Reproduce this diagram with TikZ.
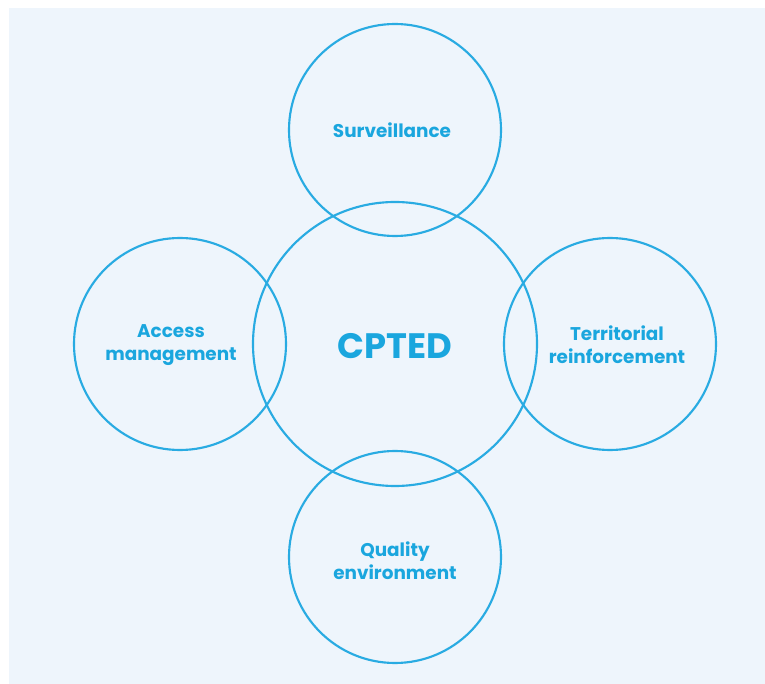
\documentclass[tikz,border=0pt]{standalone}
\usepackage{fontspec}
\setmainfont{Poppins}
\definecolor{cline}{HTML}{29ABE2}
\definecolor{ctext}{HTML}{1AA6DE}
\definecolor{cbg}{HTML}{EEF5FC}
\begin{document}
\begin{tikzpicture}[x=0.75pt,y=-0.75pt,
  ring/.style={draw=cline,line width=1.6pt,circle,inner sep=0pt},
  lab/.style={text=ctext,font=\fontsize{13.8}{17.5}\selectfont\bfseries,align=center}]
\useasboundingbox (0,0) rectangle (765,684);
\fill[white] (0,0) rectangle (765,684);
\fill[cbg] (9,8) rectangle (770,690);
\node[ring,minimum size=284*0.75pt] (c) at (395,344) {};
\node[ring,minimum size=212*0.75pt] (t) at (395,130) {};
\node[ring,minimum size=212*0.75pt] (l) at (180,344) {};
\node[ring,minimum size=212*0.75pt] (r) at (610,344) {};
\node[ring,minimum size=212*0.75pt] (b) at (395,557) {};
\node[text=ctext,font=\fontsize{26.5}{30}\selectfont\bfseries] (ct) at (395,346) {CPTED};
\node[lab] (tt) at (392,130) {Surveillance};
\node[lab] (lt) at (171,345) {Access\\management};
\node[lab] (rt) at (617,345) {Territorial\\reinforcement};
\node[lab] (bt) at (395,561) {Quality\\environment};
\end{tikzpicture}
\end{document}
